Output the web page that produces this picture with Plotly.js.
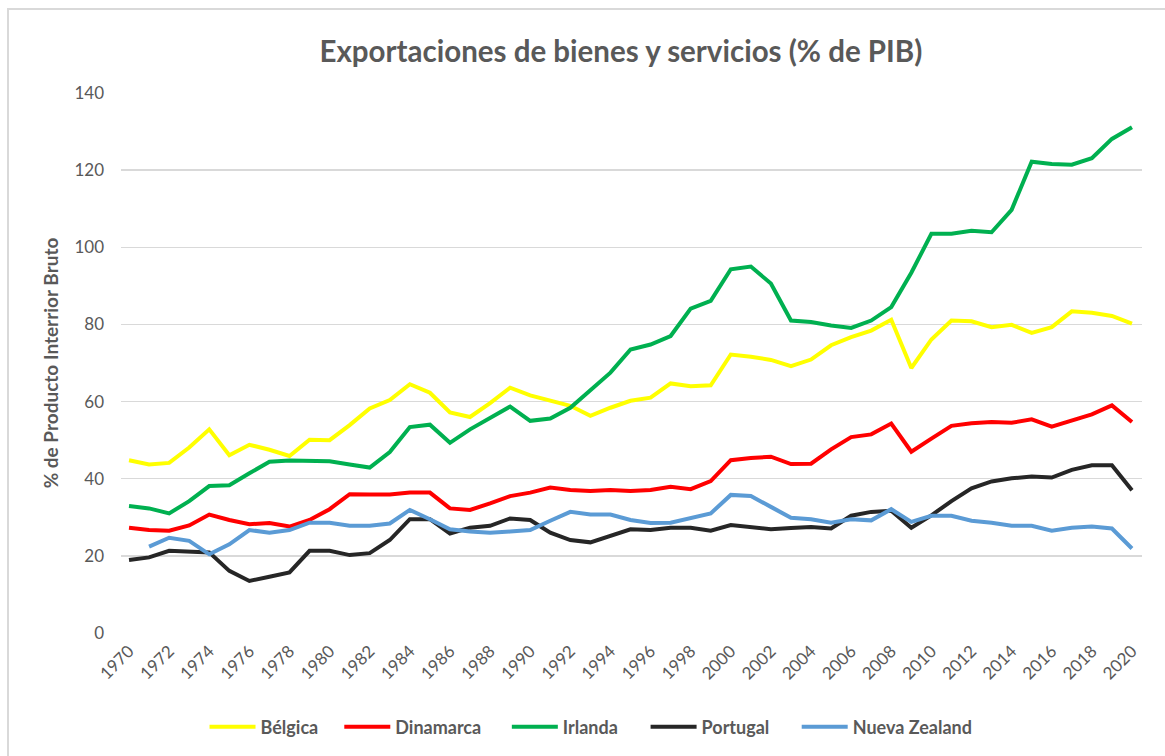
<!DOCTYPE html>
<html>
<head>
<meta charset="utf-8">
<script src="https://cdn.plot.ly/plotly-3.0.1.min.js"></script>
<style>
  html, body { margin: 0; padding: 0; background: #ffffff; }
  #wrap { position: relative; width: 1165px; height: 756px; overflow: hidden; }
  #frame { position: absolute; left: 7px; top: 8px; width: 1300px; height: 900px;
           border-left: 2px solid #d9d9d9; border-top: 2px solid #d9d9d9; box-sizing: border-box; pointer-events: none; z-index: 5; }
  #chart { position: absolute; left: 0; top: 0; width: 1165px; height: 756px; }
</style>
</head>
<body>
<div id="wrap">
  <div id="chart"></div>
  <div id="frame"></div>
</div>
<script>
const years = [];
for (let y = 1970; y <= 2020; y++) years.push(y);

const tickYears = [1970,1972,1974,1976,1978,1980,1982,1984,1986,1988,1990,1992,1994,1996,1998,2000,2002,2004,2006,2008,2010,2012,2014,2016,2018,2020];

const belgica = [44.8,43.7,44.1,48.1,52.8,46.1,48.8,47.5,45.9,50.1,50.0,53.9,58.2,60.4,64.5,62.3,57.2,
  56.0,59.6,63.6,61.6,60.2,58.9,56.3,58.4,60.2,61.0,64.7,64.0,64.2,72.2,71.6,70.8,69.2,
  70.9,74.6,76.7,78.4,81.2,68.7,76.1,81.0,80.8,79.3,79.9,77.8,79.3,83.4,83.0,82.2,80.2];

const dinamarca = [27.3,26.7,26.5,27.9,30.7,29.3,28.2,28.5,27.6,29.3,32.1,36.0,35.9,35.9,36.4,36.4,32.3,
  31.9,33.6,35.5,36.4,37.7,37.1,36.8,37.1,36.8,37.1,37.9,37.3,39.4,44.8,45.4,45.7,43.8,
  43.9,47.6,50.8,51.5,54.3,47.0,50.4,53.7,54.4,54.7,54.5,55.4,53.5,55.1,56.7,59.0,54.7];

const irlanda = [32.9,32.3,31.0,34.2,38.1,38.3,41.4,44.4,44.7,44.7,44.5,43.7,42.9,46.9,53.4,54.0,49.3,
  52.8,55.8,58.7,55.0,55.6,58.4,62.9,67.5,73.5,74.8,77.0,84.1,86.1,94.3,95.0,90.6,81.0,
  80.6,79.7,79.1,81.0,84.5,93.4,103.5,103.5,104.3,103.9,109.7,122.2,121.6,121.4,123.1,128.1,131.1];

const portugal = [18.9,19.6,21.3,21.0,20.9,16.1,13.5,14.6,15.7,21.3,21.3,20.2,20.7,24.1,29.5,29.5,25.8,
  27.3,27.8,29.7,29.3,26.0,24.1,23.5,25.2,26.9,26.7,27.3,27.3,26.5,28.0,27.5,26.9,27.2,
  27.5,27.1,30.4,31.4,31.7,27.3,30.5,34.2,37.5,39.3,40.1,40.6,40.3,42.3,43.5,43.5,37.0];

const nuevaZealand = [null,22.4,24.7,23.9,20.4,23.0,26.7,26.0,26.7,28.6,28.6,27.8,27.8,28.4,31.9,29.5,26.9,
  26.3,26.0,26.3,26.7,29.1,31.4,30.7,30.7,29.3,28.5,28.6,29.8,31.0,35.8,35.5,32.7,29.9,
  29.5,28.6,29.5,29.2,32.1,28.8,30.4,30.4,29.1,28.6,27.8,27.8,26.5,27.3,27.6,27.1,21.9];

const seriesNames = ['Bélgica','Dinamarca','Irlanda','Portugal','Nueva Zealand'];
const seriesData = [belgica, dinamarca, irlanda, portugal, nuevaZealand];
const seriesColors = ['#FFFF00','#FF0000','#00B050','#262626','#5B9BD5'];

const FONT = 'Lato, "Open Sans", sans-serif';
const GREY = '#595959';

// one legend per series so each entry sits where the original puts it
const legendIds = ['legend','legend2','legend3','legend4','legend5'];
const legendX = [0.0818, 0.2138, 0.3779, 0.5138, 0.6618];

const traces = seriesNames.map((n, i) => ({
  x: years,
  y: seriesData[i],
  name: n,
  type: 'scatter',
  mode: 'lines',
  line: { color: seriesColors[i], width: 4, shape: 'linear' },
  connectgaps: false,
  legend: legendIds[i],
  hoverinfo: 'x+y+name'
}));

const layout = {
  width: 1165,
  height: 756,
  margin: { l: 121, r: 23, t: 93, b: 122 },
  paper_bgcolor: '#ffffff',
  plot_bgcolor: '#ffffff',
  font: { family: FONT, color: GREY },
  title: {
    text: 'Exportaciones de bienes y servicios (% de PIB)',
    font: { family: FONT, size: 29.5, color: GREY, weight: 700 },
    xref: 'container', x: 0.533, xanchor: 'center',
    yref: 'container', y: 0.931, yanchor: 'middle'
  },
  xaxis: {
    range: [1969.6, 2020.5],
    tickmode: 'array',
    tickvals: tickYears,
    ticktext: tickYears.map(String),
    tickangle: -45,
    tickfont: { family: FONT, size: 17, color: GREY },
    showgrid: false,
    zeroline: false,
    showline: false,
    ticks: '',
    ticklabelstandoff: 4,
    automargin: false
  },
  yaxis: {
    range: [0, 140],
    tickmode: 'array',
    tickvals: [0,20,40,60,80,100,120,140],
    ticktext: ['0','20','40','60','80','100','120','140'],
    tickfont: { family: FONT, size: 17, color: GREY },
    showgrid: true,
    gridcolor: '#d9d9d9',
    gridwidth: 1.3,
    zeroline: false,
    showline: false,
    ticks: '',
    ticklabelstandoff: 16,
    automargin: false,
    title: {
      text: '% de Producto Interrior Bruto',
      font: { family: FONT, size: 19, color: GREY, weight: 700 },
      standoff: 10
    }
  },
  showlegend: true
};

legendIds.forEach((id, i) => {
  layout[id] = {
    orientation: 'h',
    x: legendX[i], xanchor: 'left',
    y: -0.172, yanchor: 'middle',
    font: { family: FONT, size: 18, color: GREY, weight: 700 },
    bgcolor: 'rgba(0,0,0,0)',
    itemwidth: 46,
    itemclick: false
  };
});

Plotly.newPlot('chart', traces, layout, { displayModeBar: false, staticPlot: true });
</script>
</body>
</html>
